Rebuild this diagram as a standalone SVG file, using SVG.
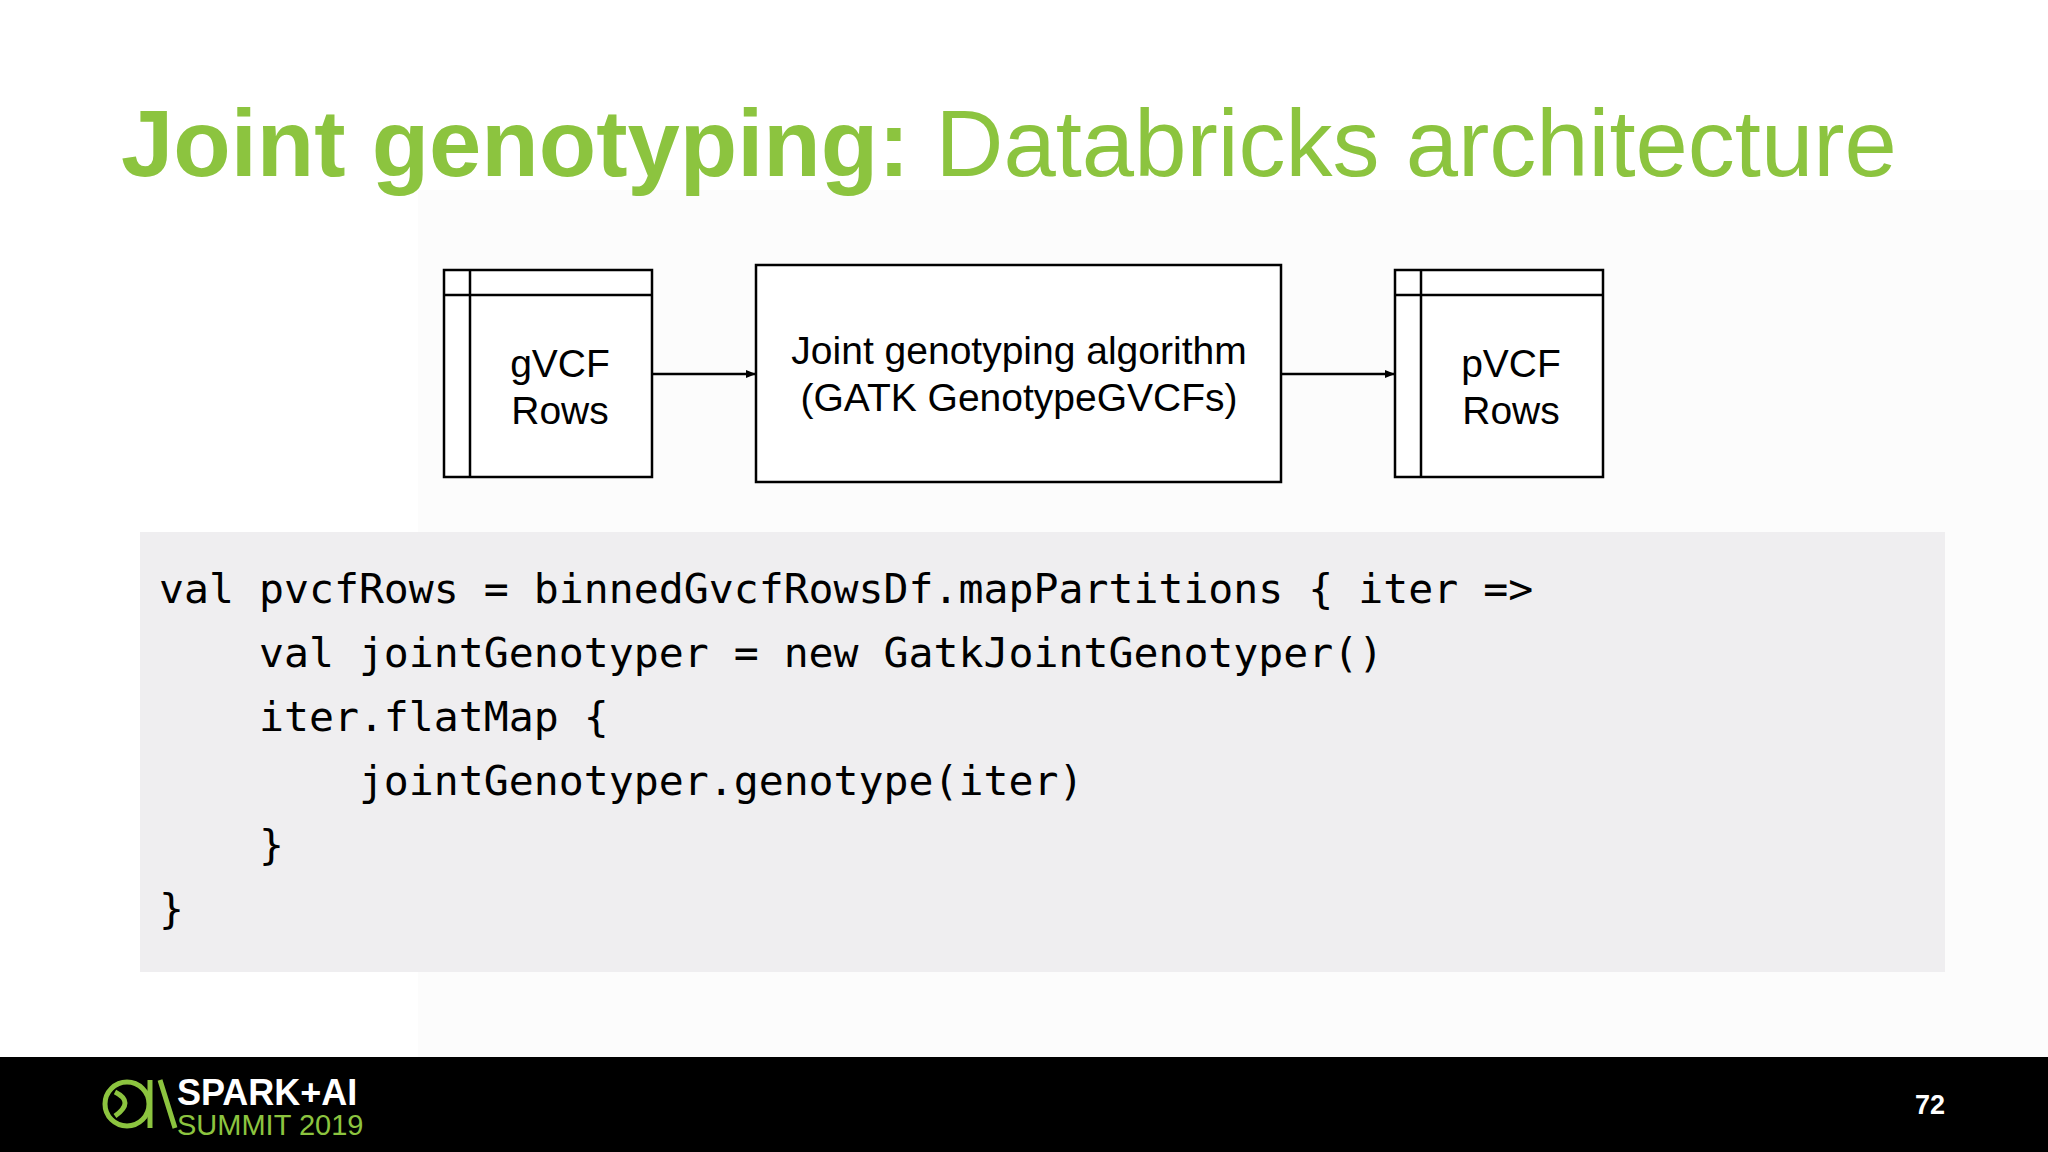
<svg xmlns="http://www.w3.org/2000/svg" width="2048" height="1152" viewBox="0 0 2048 1152">
<style>
.box{fill:#fff;stroke:#000;stroke-width:2.5}
.ln{stroke:#000;stroke-width:2.5;fill:none}
.lbl{font-family:"Liberation Sans",Arial,sans-serif;font-size:39px;fill:#000;text-anchor:middle}
.code{font-family:"DejaVu Sans Mono","Liberation Mono",monospace;font-size:41.5px;fill:#000}
</style>
<defs><marker id="ar" markerWidth="10" markerHeight="8" refX="9" refY="4" orient="auto" markerUnits="userSpaceOnUse"><path d="M0,0 L10,4 L0,8z" fill="#000"/></marker></defs>
<rect width="2048" height="1152" fill="#fff"/>
<rect x="418" y="190" width="1630" height="867" fill="#fcfcfc"/>
<text x="121" y="176" font-family="Liberation Sans,Arial,sans-serif" font-size="94" fill="#8cc43f"><tspan font-weight="bold">Joint genotyping:</tspan> Databricks architecture</text>
<g id="gvcf"><rect class="box" x="444" y="270" width="208" height="207"/><path class="ln" d="M470,270V477M444,295H652"/><text class="lbl" x="560" y="377">gVCF</text><text class="lbl" x="560" y="424">Rows</text></g>
<g id="algo"><rect class="box" x="756" y="265" width="525" height="217"/><text class="lbl" x="1019" y="364">Joint genotyping algorithm</text><text class="lbl" x="1019" y="411">(GATK GenotypeGVCFs)</text></g>
<g id="pvcf"><rect class="box" x="1395" y="270" width="208" height="207"/><path class="ln" d="M1421,270V477M1395,295H1603"/><text class="lbl" x="1511" y="377">pVCF</text><text class="lbl" x="1511" y="424">Rows</text></g>
<g id="connectors"><path class="ln" d="M652,374H755" marker-end="url(#ar)"/><path class="ln" d="M1281,374H1394" marker-end="url(#ar)"/></g>
<g id="code"><rect x="140" y="532" width="1805" height="440" fill="#efeef0"/>
<text class="code" xml:space="preserve"><tspan x="159" y="603">val pvcfRows = binnedGvcfRowsDf.mapPartitions { iter =&gt;</tspan><tspan x="159" y="667">    val jointGenotyper = new GatkJointGenotyper()</tspan><tspan x="159" y="731">    iter.flatMap {</tspan><tspan x="159" y="795">        jointGenotyper.genotype(iter)</tspan><tspan x="159" y="859">    }</tspan><tspan x="159" y="923">}</tspan></text></g>
<g id="footer"><rect x="0" y="1057" width="2048" height="95" fill="#000"/>
<g fill="none" stroke="#8cc43f" stroke-width="5"><circle cx="127" cy="1104" r="22"/><path d="M115,1092q20,10 0,24M150,1080v48M160,1080l15,48"/></g>
<text x="177" y="1105" font-family="Liberation Sans,Arial,sans-serif" font-weight="bold" font-size="36" fill="#fff">SPARK+AI</text>
<text x="177" y="1135" font-family="Liberation Sans,Arial,sans-serif" font-size="29" fill="#8cc43f">SUMMIT 2019</text>
<text x="1930" y="1114" font-family="Liberation Sans,Arial,sans-serif" font-weight="bold" font-size="27" fill="#fff" text-anchor="middle">72</text></g>
</svg>
